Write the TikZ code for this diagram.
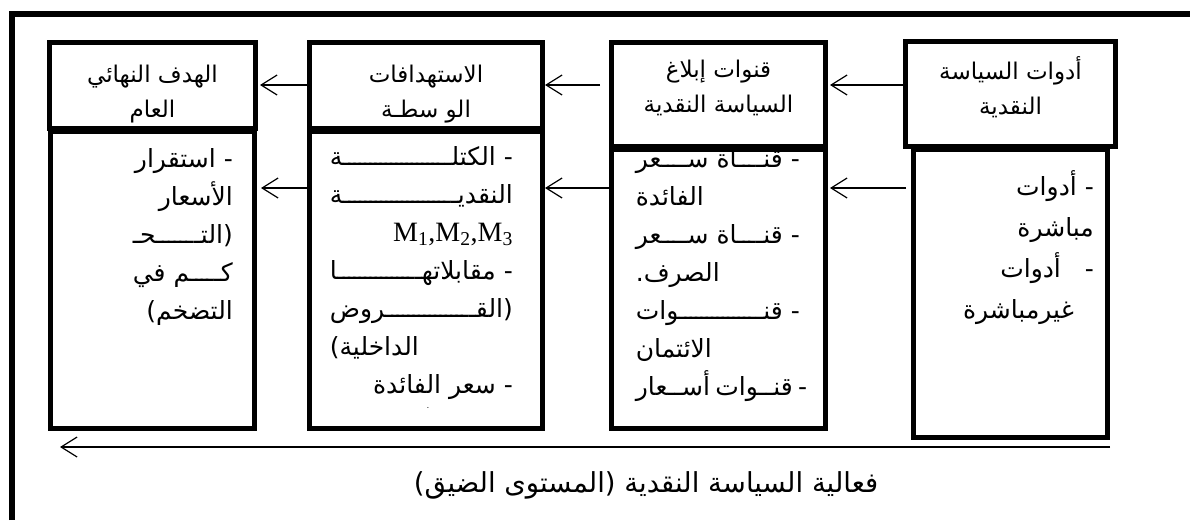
\documentclass[tikz,border=0pt]{standalone}
\usepackage{fontspec}
\usetikzlibrary{positioning,arrows.meta}
\TeXXeTstate=1
\newfontfamily\arabicfont[Script=Arabic]{DejaVu Sans}
\newfontfamily\latinfont{Liberation Serif}
\newlength\tatw
\newcommand{\ar}[1]{{\arabicfont\beginR #1\endR}}
% justified line with kashida fill, and left-set line
\newcommand{\kf}{\xleaders\hbox to .7\tatw{ـ\hss}\hfill}
\newcommand{\jline}[2]{\makebox[#1][s]{\arabicfont\settowidth{\tatw}{ـ}#2}}
\newcommand{\lline}[2]{\makebox[#1][l]{\ar{#2}}}

\tikzset{
  hdrbox/.style={draw, line width=5pt, anchor=north west, inner sep=0pt,
    align=center, font=\fontsize{23}{35}\selectfont},
  bodybox/.style={draw, line width=5pt, inner sep=0pt},
  bodytext/.style={anchor=north east, align=right, inner sep=0pt,
    font=\fontsize{25}{38}\selectfont},
  link/.style={-{Straight Barb[length=16pt,width=20pt]}, line width=1.2pt}
}

\begin{document}
\begin{tikzpicture}[x=1pt,y=-1pt]
\useasboundingbox (0,0) rectangle (1190,520);
% outer frame
\draw[line width=6pt] (12,520) -- (12,14) -- (1190,14);

% headers
\node[hdrbox, minimum width=206pt, minimum height=86pt, text height=69pt] (hdr1) at (47,40)
  {\ar{الهدف النهائي}\\\ar{العام}};
\node[hdrbox, minimum width=233pt, minimum height=86pt, text height=69pt] (hdr2) at (307,40)
  {\ar{الاستهدافات}\\\ar{الو سطـة}};
\node[hdrbox, minimum width=214pt, minimum height=104pt, text depth=16pt] (hdr3) at (609,40)
  {\ar{قنوات إبلاغ}\\\ar{السياسة النقدية}};
\node[hdrbox, minimum width=210pt, minimum height=105pt, text depth=16pt] (hdr4) at (903,39)
  {\ar{أدوات السياسة}\\\ar{النقدية}};

% bodies
\node[bodybox, minimum width=204pt, minimum height=297pt, below=-2pt of hdr1] (body1) {};
\node[bodybox, minimum width=233pt, minimum height=297pt, below=-2pt of hdr2] (body2) {};
\node[bodybox, minimum width=214pt, minimum height=279pt, below=-2pt of hdr3] (body3) {};
\node[bodybox, minimum width=194pt, minimum height=288pt, below=-2pt of hdr4] (body4) {};

% body texts
\node[bodytext] (txt1) at ([xshift=-24pt,yshift=-19pt]body1.north east)
  {\ar{- استقرار}\\\ar{الأسعار}\\\jline{100pt}{\beginR (التـ\kf ـحـ\endR}\\
   \jline{100pt}{\beginR كـ\kf ـم في\endR}\\\ar{التضخم)}};
\node[bodytext] (txt2) at ([xshift=-32pt,yshift=-17pt]body2.north east)
  {\jline{183pt}{\beginR - الكتلـ\kf ـة\endR}\\\jline{183pt}{\beginR النقديـ\kf ـة\endR}\\
   {\latinfont\fontsize{28}{38}\selectfont M\textsubscript{1},M\textsubscript{2},M\textsubscript{3}}\\
   \jline{183pt}{\beginR - مقابلاتهـ\kf ـا\endR}\\\jline{183pt}{\beginR (القـ\kf ـروض\endR}\\
   \lline{183pt}{الداخلية)}\\\ar{- سعر الفائدة}};
\node[font=\fontsize{10}{10}\selectfont] (dot2) at (428,408) {.};
\node[bodytext] (txt3) at ([xshift=-28pt,yshift=-1pt]body3.north east)
  {\jline{164pt}{\beginR - قنـ\kf ـاة سـ\kf ـعر\endR}\\\lline{164pt}{الفائدة}\\
   \jline{164pt}{\beginR - قنـ\kf ـاة سـ\kf ـعر\endR}\\\lline{164pt}{الصرف.}\\
   \jline{164pt}{\beginR - قنـ\kf ـوات\endR}\\\lline{164pt}{الائتمان}\\
   \jline{164pt}{\beginR - قنـ\kf ـوات أسـ\kf ـعار\endR}};
\node[bodytext, font=\fontsize{25}{41}\selectfont] (txt4) at ([xshift=-16pt,yshift=-23pt]body4.north east)
  {\ar{- أدوات}\\\ar{مباشرة}\\\ar{-\ \ \ أدوات}\\\ar{\hspace*{20pt}غيرمباشرة}};

% links
\coordinate (row1) at (0,85);
\coordinate (row2) at (0,188);
\draw[link, shorten >=2pt] (hdr2.west |- row1) -- (hdr1.east |- row1);
\draw[link, shorten >=4pt] (body2.west |- row2) -- (body1.east |- row2);
\draw[link, shorten <=9pt] (hdr3.west |- row1) -- (hdr2.east |- row1);
\draw[link] (body3.west |- row2) -- (body2.east |- row2);
\draw[link, shorten >=2pt] (hdr4.west |- row1) -- (hdr3.east |- row1);
\draw[link, shorten <=5pt, shorten >=2pt] (body4.west |- row2) -- (body3.east |- row2);

% effectiveness
\coordinate (effend) at (60,447);
\draw[link] (body4.south east |- effend) -- (effend);
\node[font=\fontsize{27.5}{30}\selectfont] (eff) at (646,485)
  {\ar{فعالية السياسة النقدية (المستوى الضيق)}};
\end{tikzpicture}
\end{document}
